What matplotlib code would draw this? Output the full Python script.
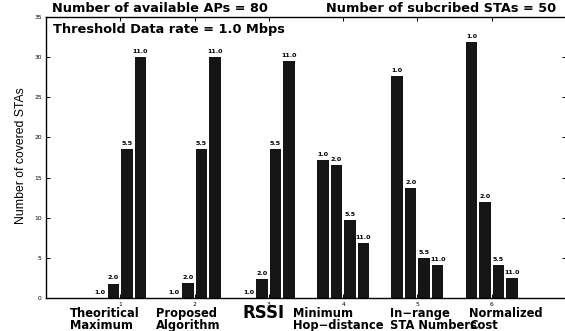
import matplotlib
matplotlib.use("Agg")
import matplotlib.pyplot as plt
import numpy as np

# Number of covered STAs per selection scheme, one series per threshold data rate
categories = ["Theoritical\nMaximum", "Proposed\nAlgorithm", "RSSI",
              "Minimum\nHop\u2212distance", "In\u2212range\nSTA Numbers",
              "Normalized\nCost"]
rate_labels = ["1.0", "2.0", "5.5", "11.0"]
rate_1_0 = [0.0, 0.0, 0.0, 17.2, 27.6, 31.9]
rate_2_0 = [1.8, 1.9, 2.4, 16.6, 13.7, 11.9]
rate_5_5 = [18.6, 18.6, 18.6, 9.7, 5.0, 4.1]
rate_11_0 = [30.0, 30.0, 29.5, 6.9, 4.1, 2.5]
series = [rate_1_0, rate_2_0, rate_5_5, rate_11_0]

W, H = 565, 331
fig = plt.figure(figsize=(W / 100, H / 100), dpi=100)
ax = fig.add_axes([46 / W, 33 / H, 520 / W, 281 / H])

x = np.arange(1, len(categories) + 1)
n = len(series)
group_w = min(0.8, n / (n + 1.5))
step = group_w / n
bar_w = step * 0.86
bar_color = "#151515"

for i, (vals, lab) in enumerate(zip(series, rate_labels)):
    pos = x + (i - (n - 1) / 2) * step
    ax.bar(pos, vals, width=bar_w, color=bar_color, linewidth=0)
    for px, v in zip(pos, vals):
        ax.annotate(lab, (px, v), xytext=(0, 2.2), textcoords="offset points",
                    ha="center", va="bottom", fontsize=4.6,
                    fontweight="bold", family="DejaVu Sans")

ax.set_xlim(0, 7)
ax.set_ylim(0, 35)
ax.set_xticks(x)
ax.set_xticklabels([str(v) for v in x])
ax.set_yticks(np.arange(0, 36, 5))
ax.tick_params(direction="in", length=3, width=0.7, labelsize=4.3,
               top=True, right=True, pad=3)
for s in ax.spines.values():
    s.set_linewidth(1.0)

ax.set_ylabel("Number of covered STAs", family="Liberation Sans",
              fontsize=8.8)
ax.yaxis.set_label_coords(-0.036, 0.505)

def fig_text(px, py, s, **kw):
    fig.text(px / W, 1 - py / H, s, **kw)

title_kw = dict(fontsize=9.25, fontweight="bold", family="DejaVu Sans",
                va="center", ha="left")
fig_text(52, 9, "Number of available APs = 80", **title_kw)
fig_text(326, 9, "Number of subcribed STAs = 50", **title_kw)
fig_text(53, 29, "Threshold Data rate = 1.0 Mbps", **title_kw)

# Scheme names written under the tick numbers
label_x = [70, 156, 243, 293, 390, 469]
for lx, name in zip(label_x, categories):
    if name == "RSSI":
        fig_text(lx, 313, name, fontsize=12, fontweight="bold",
                 family="DejaVu Sans", ha="left", va="center")
    else:
        fig_text(lx, 307, name, fontsize=8.3, fontweight="bold",
                 family="DejaVu Sans", ha="left", va="top",
                 linespacing=0.88)

fig.savefig("out.png", dpi=100)
